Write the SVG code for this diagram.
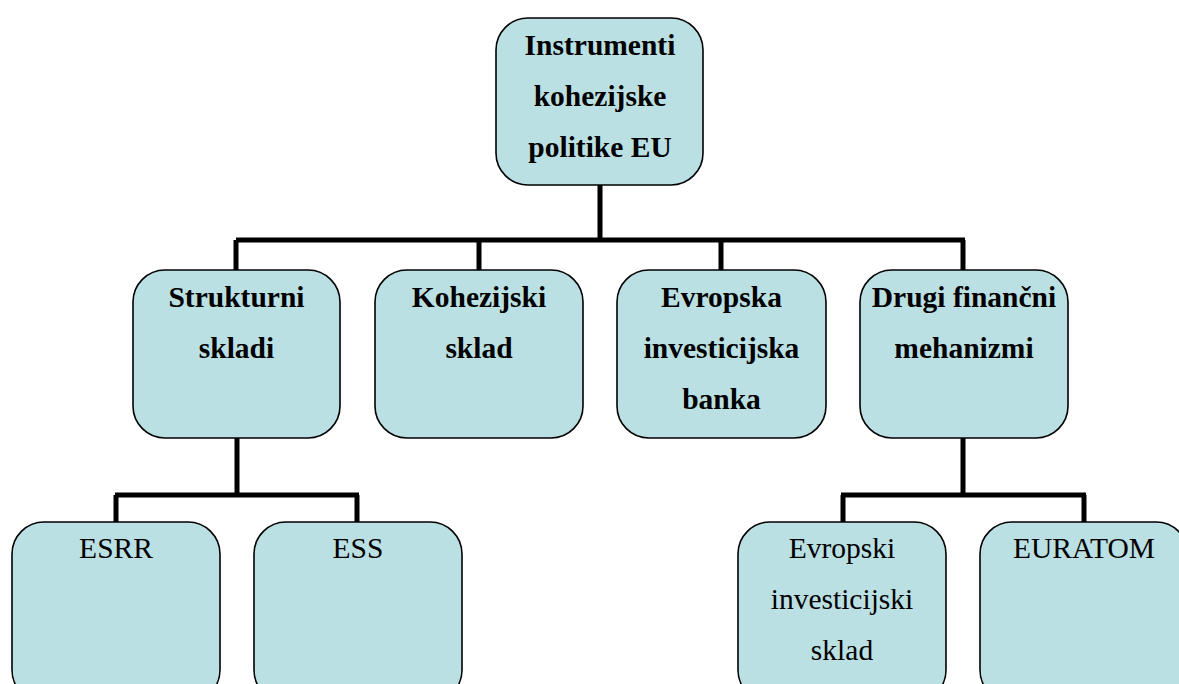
<svg xmlns="http://www.w3.org/2000/svg" width="1179" height="684" viewBox="0 0 1179 684">
<style>
.box{fill:#BBE0E3;stroke:#000;stroke-width:1.6}
.conn{fill:none;stroke:#000;stroke-width:5;stroke-linejoin:miter}
.b{font-family:'Liberation Serif',serif;font-weight:bold;font-size:29.5px;text-anchor:middle;fill:#000}
.r{font-family:'Liberation Serif',serif;font-size:29.5px;text-anchor:middle;fill:#000}
</style>
<rect width="1179" height="684" fill="#fff"/>
<g id="connectors">
<path class="conn" d="M600,185 V240 M236,240 H965 M236,240 V270 M479,240 V270 M721,240 V270 M963,240 V270"/>
<path class="conn" d="M237,438 V495 M115,495 H359 M116,495 V522 M357,495 V522"/>
<path class="conn" d="M963,438 V495 M841,495 H1086 M843,495 V522 M1084,495 V522"/>
</g>
<g id="root">
<rect class="box" x="496" y="18" width="207" height="167" rx="32"/>
<text class="b" font-family="Liberation Serif" x="600" y="55">Instrumenti</text>
<text class="b" font-family="Liberation Serif" x="600" y="106">kohezijske</text>
<text class="b" font-family="Liberation Serif" x="600" y="157">politike EU</text>
</g>
<g id="strukturni">
<rect class="box" x="133" y="270" width="207" height="168" rx="32"/>
<text class="b" font-family="Liberation Serif" x="236.5" y="307">Strukturni</text>
<text class="b" font-family="Liberation Serif" x="236.5" y="358">skladi</text>
</g>
<g id="kohezijski">
<rect class="box" x="375" y="270" width="208" height="168" rx="32"/>
<text class="b" font-family="Liberation Serif" x="479" y="307">Kohezijski</text>
<text class="b" font-family="Liberation Serif" x="479" y="358">sklad</text>
</g>
<g id="eib">
<rect class="box" x="617" y="270" width="209" height="168" rx="32"/>
<text class="b" font-family="Liberation Serif" x="721.5" y="307">Evropska</text>
<text class="b" font-family="Liberation Serif" x="721.5" y="358">investicijska</text>
<text class="b" font-family="Liberation Serif" x="721.5" y="409">banka</text>
</g>
<g id="drugi">
<rect class="box" x="860" y="270" width="208" height="168" rx="32"/>
<text class="b" font-family="Liberation Serif" x="964" y="307">Drugi finančni</text>
<text class="b" font-family="Liberation Serif" x="964" y="358">mehanizmi</text>
</g>
<g id="esrr">
<rect class="box" x="12" y="522" width="208" height="180" rx="32"/>
<text class="r" font-family="Liberation Serif" x="116" y="558">ESRR</text>
</g>
<g id="ess">
<rect class="box" x="254" y="522" width="208" height="180" rx="32"/>
<text class="r" font-family="Liberation Serif" x="358" y="558">ESS</text>
</g>
<g id="eif">
<rect class="box" x="738" y="522" width="208" height="180" rx="32"/>
<text class="r" font-family="Liberation Serif" x="842" y="558">Evropski</text>
<text class="r" font-family="Liberation Serif" x="842" y="609">investicijski</text>
<text class="r" font-family="Liberation Serif" x="842" y="660">sklad</text>
</g>
<g id="euratom">
<rect class="box" x="980" y="522" width="208" height="180" rx="32"/>
<text class="r" font-family="Liberation Serif" x="1084" y="558">EURATOM</text>
</g>
</svg>
